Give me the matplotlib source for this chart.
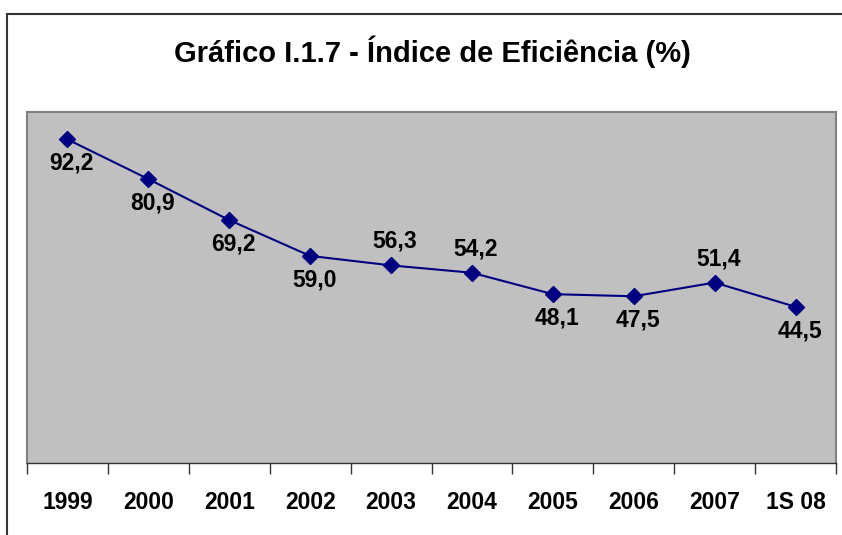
import matplotlib
matplotlib.use("Agg")
import matplotlib.pyplot as plt
from matplotlib.patches import Rectangle

categories = ["1999", "2000", "2001", "2002", "2003", "2004", "2005", "2006", "2007", "1S 08"]
values = [92.2, 80.9, 69.2, 59.0, 56.3, 54.2, 48.1, 47.5, 51.4, 44.5]
label_pos = ["below", "below", "below", "below", "above", "above", "below", "below", "above", "below"]

plt.rcParams['font.family'] = ['Liberation Sans', 'DejaVu Sans']

W, H = 842, 535
fig = plt.figure(figsize=(W / 100, H / 100), dpi=100)
fig.patch.set_facecolor("white")

# figure border (left & top visible)
fig.add_artist(Rectangle((7 / W, -0.1), 1.2, (H - 14) / H + 0.1, transform=fig.transFigure,
                         fill=False, edgecolor="#333333", linewidth=1.5))

ax = fig.add_axes([27 / W, (H - 463) / H, (836 - 27) / W, (463 - 112) / H])
ax.set_facecolor("#C0C0C0")
x = list(range(len(categories)))
ax.plot(x, values, color="#000080", linewidth=1.5, marker="D", markersize=8,
        markerfacecolor="#000080", markeredgecolor="#000080")
ax.set_xlim(-0.5, len(categories) - 0.5)
ax.set_ylim(0, 100)
ax.set_yticks([])
ax.set_xticks([i - 0.5 for i in range(len(categories) + 1)])
ax.set_xticklabels([])
ax.set_xticks(x, minor=True)
ax.set_xticklabels(categories, minor=True, fontsize=16.5, fontweight="bold")
ax.tick_params(axis="x", which="major", direction="out", length=8, width=1, color="#333333")
ax.tick_params(axis="x", which="minor", length=0, pad=20)
for side in ["top", "right", "left"]:
    ax.spines[side].set_color("#808080")
    ax.spines[side].set_linewidth(1.5)
ax.spines["bottom"].set_color("#333333")
ax.spines["bottom"].set_linewidth(1)

for xi, v, p in zip(x, values, label_pos):
    txt = f"{v:.1f}".replace(".", ",")
    off = -24 if p == "below" else 24
    ax.annotate(txt, (xi, v), xytext=(4, off), textcoords="offset pixels",
                ha="center", va="center", fontsize=16.5, fontweight="bold", color="black")

fig.text(432 / W, 1 - 52 / H, "Gráfico I.1.7 - Índice de Eficiência (%)", ha="center", va="center",
         fontsize=21, fontweight="bold")

fig.savefig("out.png", dpi=100)
